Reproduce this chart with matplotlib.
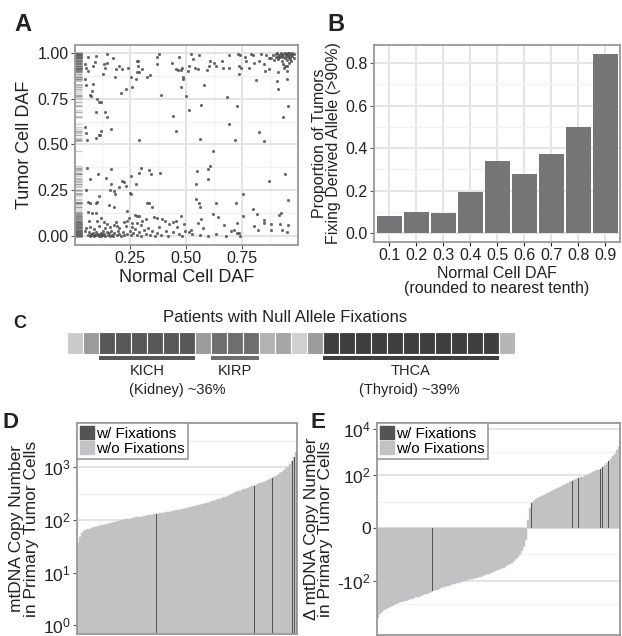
import matplotlib.pyplot as plt
from matplotlib.patches import Patch

plt.rcParams['font.family'] = ['Liberation Sans', 'DejaVu Sans']
plt.rcParams['mathtext.fontset'] = 'custom'
plt.rcParams['mathtext.rm'] = 'Liberation Sans'

# ---- panel A: normal vs tumor DAF
daf_points = [
    (0.060, 0.980), (0.097, 0.984), (0.149, 0.993), (0.174, 0.971), (0.049, 0.938), (0.092, 0.949),
    (0.085, 0.931), (0.134, 0.940), (0.149, 0.944), (0.052, 0.917), (0.060, 0.899), (0.138, 0.920),
    (0.189, 0.913), (0.201, 0.931), (0.216, 0.911), (0.241, 0.917), (0.280, 0.957), (0.286, 0.953),
    (0.287, 0.926), (0.305, 0.913), (0.280, 0.895), (0.290, 0.895), (0.369, 0.975), (0.379, 0.993),
    (0.372, 0.940), (0.436, 0.947), (0.469, 0.980), (0.454, 0.913), (0.464, 0.904), (0.479, 0.907),
    (0.484, 0.920), (0.129, 0.886), (0.182, 0.868), (0.253, 0.866), (0.275, 0.859), (0.324, 0.868),
    (0.339, 0.877), (0.487, 0.868), (0.488, 0.857), (0.049, 0.859), (0.052, 0.826), (0.085, 0.831),
    (0.231, 0.804), (0.257, 0.813), (0.208, 0.779), (0.082, 0.790), (0.071, 0.772), (0.077, 0.763),
    (0.104, 0.748), (0.112, 0.730), (0.119, 0.732), (0.478, 0.813), (0.387, 0.772), (0.100, 0.676),
    (0.140, 0.678), (0.149, 0.649), (0.443, 0.658), (0.049, 0.594), (0.052, 0.560), (0.119, 0.576),
    (0.112, 0.554), (0.116, 0.551), (0.164, 0.582), (0.097, 0.536), (0.057, 0.527), (0.290, 0.527),
    (0.454, 0.572),
    (0.522, 0.993), (0.530, 0.965), (0.560, 0.986), (0.607, 0.958), (0.601, 0.931), (0.624, 0.947),
    (0.634, 0.931), (0.659, 0.953), (0.667, 0.917), (0.693, 0.917), (0.693, 0.986), (0.734, 0.993),
    (0.743, 0.989), (0.738, 0.926), (0.746, 0.917), (0.735, 0.884), (0.765, 0.976), (0.768, 0.957),
    (0.780, 0.917), (0.790, 0.993), (0.798, 0.989), (0.805, 0.944), (0.824, 0.953), (0.835, 0.993),
    (0.847, 0.940), (0.854, 0.902), (0.869, 0.913), (0.857, 0.989), (0.872, 0.974), (0.932, 0.940),
    (0.939, 0.917), (0.949, 0.902), (0.943, 0.931), (0.909, 0.898), (0.951, 0.857), (0.905, 0.844),
    (0.912, 0.802), (0.812, 0.851), (0.582, 0.822), (0.682, 0.759), (0.500, 0.763), (0.567, 0.717),
    (0.726, 0.712), (0.954, 0.712), (0.932, 0.649), (0.515, 0.687), (0.690, 0.609), (0.827, 0.569),
    (0.847, 0.518), (0.563, 0.531), (0.719, 0.527), (0.542, 0.920), (0.552, 0.913), (0.592, 0.907),
    (0.507, 0.899), (0.515, 0.926),
    (0.880, 0.970), (0.890, 0.990), (0.895, 0.960), (0.900, 0.980), (0.905, 1.000), (0.910, 0.965),
    (0.915, 0.990), (0.920, 0.975), (0.925, 1.000), (0.930, 0.955), (0.930, 0.985), (0.935, 0.995),
    (0.940, 0.970), (0.940, 1.000), (0.945, 0.985), (0.950, 0.960), (0.950, 0.995), (0.955, 0.975),
    (0.960, 1.000), (0.960, 0.990), (0.965, 0.965), (0.965, 0.980), (0.970, 0.995), (0.970, 0.955),
    (0.975, 1.000), (0.975, 0.985), (0.980, 0.970), (0.980, 0.995), (0.920, 0.990), (0.945, 0.995),
    (0.955, 1.000), (0.935, 0.975), (0.900, 0.995), (0.910, 0.980), (0.960, 0.945), (0.950, 0.930),
    (0.057, 0.373), (0.164, 0.364), (0.107, 0.337), (0.070, 0.310), (0.141, 0.319), (0.298, 0.370),
    (0.290, 0.346), (0.335, 0.359), (0.345, 0.341), (0.384, 0.346), (0.253, 0.328), (0.167, 0.286),
    (0.216, 0.301), (0.223, 0.297), (0.231, 0.274), (0.201, 0.268), (0.161, 0.250), (0.182, 0.228),
    (0.176, 0.246), (0.275, 0.286), (0.250, 0.237), (0.253, 0.228), (0.052, 0.252), (0.112, 0.219),
    (0.063, 0.188), (0.070, 0.183), (0.097, 0.178), (0.104, 0.188), (0.156, 0.168), (0.176, 0.156),
    (0.324, 0.183), (0.335, 0.178), (0.350, 0.156), (0.060, 0.129), (0.082, 0.123), (0.097, 0.125),
    (0.119, 0.101), (0.238, 0.138), (0.272, 0.116), (0.283, 0.111), (0.290, 0.107), (0.246, 0.098),
    (0.067, 0.080), (0.104, 0.083), (0.134, 0.074), (0.149, 0.065), (0.186, 0.074), (0.193, 0.056),
    (0.223, 0.074), (0.238, 0.080), (0.260, 0.069), (0.305, 0.083), (0.320, 0.092), (0.357, 0.105),
    (0.369, 0.098), (0.394, 0.092), (0.405, 0.080), (0.424, 0.065), (0.443, 0.074), (0.454, 0.083),
    (0.476, 0.111), (0.491, 0.065),
    (0.060, 0.005), (0.065, 0.020), (0.070, 0.000), (0.075, 0.010), (0.080, 0.005), (0.085, 0.015),
    (0.090, 0.000), (0.095, 0.008), (0.100, 0.020), (0.100, 0.003), (0.105, 0.012), (0.110, 0.000),
    (0.115, 0.006), (0.120, 0.018), (0.120, 0.002), (0.125, 0.010), (0.130, 0.030), (0.130, 0.004),
    (0.135, 0.012), (0.140, 0.000), (0.145, 0.022), (0.150, 0.006), (0.155, 0.014), (0.160, 0.002),
    (0.165, 0.030), (0.170, 0.008), (0.175, 0.000), (0.180, 0.016), (0.190, 0.004), (0.195, 0.025),
    (0.200, 0.010), (0.210, 0.000), (0.220, 0.020), (0.225, 0.005), (0.235, 0.012), (0.250, 0.030),
    (0.255, 0.003), (0.265, 0.015), (0.270, 0.040), (0.280, 0.006), (0.290, 0.020), (0.300, 0.000),
    (0.310, 0.035), (0.320, 0.010), (0.330, 0.045), (0.340, 0.005), (0.350, 0.025), (0.360, 0.000),
    (0.370, 0.015), (0.380, 0.050), (0.390, 0.008), (0.410, 0.030), (0.420, 0.002), (0.440, 0.020),
    (0.460, 0.050), (0.470, 0.010), (0.480, 0.000), (0.495, 0.030), (0.050, 0.030), (0.055, 0.045),
    (0.070, 0.050), (0.090, 0.040), (0.110, 0.055), (0.140, 0.045), (0.160, 0.050), (0.180, 0.060),
    (0.200, 0.045), (0.230, 0.055), (0.260, 0.050), (0.280, 0.070), (0.300, 0.060),
    (0.622, 0.464), (0.607, 0.382), (0.597, 0.364), (0.549, 0.355), (0.597, 0.310), (0.545, 0.283),
    (0.869, 0.301), (0.942, 0.341), (0.756, 0.228), (0.545, 0.201), (0.560, 0.183), (0.563, 0.161),
    (0.634, 0.179), (0.723, 0.179), (0.954, 0.196), (0.798, 0.147), (0.815, 0.120), (0.924, 0.123),
    (0.914, 0.114), (0.619, 0.120), (0.641, 0.105), (0.567, 0.092), (0.552, 0.069), (0.577, 0.042),
    (0.668, 0.060), (0.728, 0.071), (0.847, 0.087), (0.847, 0.071), (0.879, 0.065), (0.921, 0.065),
    (0.954, 0.060), (0.753, 0.111), (0.805, 0.054), (0.820, 0.033), (0.879, 0.033), (0.929, 0.033),
    (0.949, 0.024), (0.521, 0.035), (0.511, 0.020), (0.527, 0.011), (0.563, 0.007), (0.597, -0.002),
    (0.634, 0.011), (0.679, 0.002), (0.701, 0.026), (0.713, 0.033), (0.728, 0.018), (0.738, 0.018),
    (0.741, 0.000),
]
normal_daf = [p[0] for p in daf_points]
tumor_daf = [p[1] for p in daf_points]

# ---- panel B
daf_bins = [0.1, 0.2, 0.3, 0.4, 0.5, 0.6, 0.7, 0.8, 0.9]
prop_fixed = [0.081, 0.100, 0.095, 0.194, 0.339, 0.278, 0.372, 0.498, 0.841]
bin_labels = ['0.1', '0.2', '0.3', '0.4', '0.5', '0.6', '0.7', '0.8', '0.9']

# ---- panel C: one cell per patient
cell_colors = ['#cbcbcd', '#9b9b9d'] + ['#58585a'] * 6 + ['#9b9b9d'] + ['#6e6e71'] * 3 + \
              ['#b2b2b4', '#a6a6a8', '#d0d0d2', '#9b9b9d'] + ['#3f3f42'] * 11 + ['#b6b6b8']
groups = ['KICH', 'KIRP', 'THCA']
group_first = [2, 9, 16]
group_last = [7, 11, 26]
group_colors = ['#58585a', '#6e6e71', '#3f3f42']

# ---- panel D: mtDNA copy number, sorted
copy_number = [37, 48, 56, 61, 64, 66, 68, 70, 72, 74, 76, 78, 80, 81, 83, 85, 87, 89, 91, 93,
               95, 97, 99, 101, 102, 104, 106, 108, 110, 111, 113, 114, 115, 117, 119, 121, 123,
               125, 127, 129, 131, 133, 135, 137, 139, 141, 144, 146, 148, 151, 154, 157, 160, 163,
               166, 169, 172, 176, 180, 184, 188, 192, 197, 202, 207, 212, 218, 224, 231, 238, 245,
               252, 260, 268, 277, 287, 297, 308, 320, 333, 346, 355, 368, 380, 393, 406, 420, 435,
               447, 460, 475, 490, 505, 520, 537, 560, 585, 610, 640, 680, 720, 770, 820, 880, 950,
               1010, 1150, 1320, 1550, 1900]
fixed_d = [39, 88, 97, 107, 108, 109]

# ---- panel E: change in copy number, sorted
delta_cn = [-4200, -2800, -2300, -1900, -1650, -1500, -1350, -1230, -1100, -990, -900, -850, -800,
            -750, -710, -670, -630, -590, -550, -510, -470, -430, -400, -375, -350, -325, -300,
            -275, -255, -235, -218, -203, -190, -178, -167, -157, -147, -138, -130, -122, -116,
            -110, -104, -99, -94, -89, -85, -81, -77, -73, -69, -65, -61, -56, -51, -48, -45, -42,
            -38, -34, -31, -28, -26, -23, -20, -18, -16, -13, -11, -8.8, -6.5, -4.8, -3.2, -1.5,
            0.9, 3.5, 5.9, 7.5, 8.6, 9.7, 10.8, 12, 13.4, 14.7, 16, 18, 20, 22, 24, 27, 31, 34, 38,
            42, 46, 51, 56, 61, 66, 72, 78, 85, 92, 100, 110, 120, 132, 145, 158, 170, 185, 215,
            260, 320, 400, 500, 640, 820, 1200, 1700]
fixed_e = [27, 76, 96, 99, 110, 111, 114]

DARK = '#545457'
LIGHT = '#c2c2c4'
SPINE = '#999999'
GRID = '#e4e4e4'
GRID2 = '#f1f1f1'
TXT = '#222222'

fig = plt.figure(figsize=(6.22, 6.36), dpi=100)
W, H = 622.0, 636.0


def box(x0, y0, x1, y1):
    return [x0 / W, 1 - y1 / H, (x1 - x0) / W, (y1 - y0) / H]


def style(ax, fs):
    for s in ax.spines.values():
        s.set_color(SPINE)
        s.set_linewidth(1.3)
    ax.tick_params(which='major', labelsize=fs, color='#555555', length=3, width=0.8,
                   labelcolor=TXT, pad=1.5)
    ax.tick_params(which='minor', length=0)
    ax.set_axisbelow(True)


def sorted_bars(ax, values, fixed):
    # every sample as a light bar, samples with fixations as a thin dark bar
    idx = range(len(values))
    ax.bar(idx, values, width=1.0, color=LIGHT, edgecolor=LIGHT, linewidth=0.3)
    fx = [i for i in idx if i in fixed]
    ax.bar(fx, [values[i] for i in fx], width=0.5, color=DARK, linewidth=0)
    ax.set_xlim(-0.5, len(values) - 0.5)
    ax.set_xticks([])


# A
ax = fig.add_axes(box(75, 45, 298, 245))
ax.scatter(normal_daf, tumor_daf, s=3, facecolor='#666666', edgecolor='#333333', linewidths=0.3, zorder=3)
ax.hlines(tumor_daf, 0, 0.03, transform=ax.get_yaxis_transform(), color='#666666', alpha=0.3, lw=1)
ax.set_xlim(0.004, 1.0)
ax.set_ylim(-0.049, 1.043)
ax.set_xticks([0.25, 0.5, 0.75])
ax.set_xticklabels(['0.25', '0.50', '0.75'])
ax.set_xticks([0.125, 0.375, 0.625, 0.875], minor=True)
ax.set_yticks([0, 0.25, 0.5, 0.75, 1.0])
ax.set_yticklabels(['0.00', '0.25', '0.50', '0.75', '1.00'])
ax.set_yticks([0.125, 0.375, 0.625, 0.875], minor=True)
ax.grid(which='major', color=GRID, lw=1.4)
ax.grid(which='minor', color=GRID2, lw=0.9)
style(ax, 11.5)
ax.set_xlabel('Normal Cell DAF', fontsize=13, color=TXT, labelpad=2)
ax.set_ylabel('Tumor Cell DAF', fontsize=13, color=TXT, labelpad=3)
fig.text(14 / W, 1 - 31 / H, 'A', fontsize=17, fontweight='bold', color=TXT)

# B
ax = fig.add_axes(box(374, 45, 620, 242))
ax.bar(daf_bins, prop_fixed, width=0.092, color='#767679', zorder=3)
ax.set_xlim(0.043, 0.955)
ax.set_ylim(-0.042, 0.885)
ax.set_xticks(daf_bins)
ax.set_xticklabels(bin_labels)
ax.set_yticks([0, 0.2, 0.4, 0.6, 0.8])
ax.set_yticklabels(['0.0', '0.2', '0.4', '0.6', '0.8'])
ax.set_yticks([0.1, 0.3, 0.5, 0.7], minor=True)
ax.grid(which='major', color=GRID, lw=1.4)
ax.grid(which='minor', axis='y', color=GRID2, lw=0.9)
style(ax, 11.5)
ax.tick_params(axis='x', color=TXT)
ax.set_xlabel('Normal Cell DAF\n(rounded to nearest tenth)', fontsize=11.5, color=TXT,
              labelpad=2, linespacing=1.0)
ax.set_ylabel('Proportion of Tumors\nFixing Derived Allele (>90%)', fontsize=11.5, color=TXT,
              labelpad=3, linespacing=0.95)
fig.text(327 / W, 1 - 31 / H, 'B', fontsize=17, fontweight='bold', color=TXT)

# C
ax = fig.add_axes(box(67, 305, 515, 400))
ax.set_xlim(0, len(cell_colors))
ax.set_ylim(400, 305)
ax.axis('off')
ax.bar(range(len(cell_colors)), [22] * len(cell_colors), bottom=332, width=1.0, align='edge',
       color=cell_colors, edgecolor='white', linewidth=0.8)
for g, a, b, c in zip(groups, group_first, group_last, group_colors):
    ax.bar(a, 4.5, bottom=356, width=b + 1 - a, align='edge', color=c)
    ax.text((a + b + 1) / 2, 371, g, ha='center', va='center', fontsize=10.5, color=TXT)
ax.text(6.9, 390, '(Kidney) ~36%', ha='center', va='center', fontsize=10.5, color=TXT)
ax.text(21.4, 390, '(Thyroid) ~39%', ha='center', va='center', fontsize=10.5, color=TXT)
ax.text(13.6, 318, 'Patients with Null Allele Fixations', ha='center', va='center',
        fontsize=12, color=TXT)
fig.text(13 / W, 1 - 328 / H, 'C', fontsize=13, fontweight='bold', color=TXT)

handles = [Patch(color=DARK, label='w/ Fixations'), Patch(color=LIGHT, label='w/o Fixations')]


def legend(ax):
    lg = ax.legend(handles=handles, loc='upper left', fontsize=11, frameon=True, fancybox=False,
                   edgecolor=SPINE, framealpha=1, borderaxespad=0, borderpad=0.2,
                   handlelength=0.9, handleheight=0.9, handletextpad=0.15, labelspacing=0.05)
    lg.get_frame().set_linewidth(1.2)


# D
ax = fig.add_axes(box(77, 423, 297, 634))
ax.set_yscale('log')
sorted_bars(ax, copy_number, fixed_d)
ax.set_ylim(0.68, 6900)
ax.set_yticks([1, 10, 100, 1000])
ax.set_yticklabels([r'$\mathregular{10^{0}}$', r'$\mathregular{10^{1}}$',
                    r'$\mathregular{10^{2}}$', r'$\mathregular{10^{3}}$'])
ax.set_yticks([3.16, 31.6, 316, 3162], minor=True)
ax.grid(which='major', axis='y', color=GRID, lw=1.4)
ax.grid(which='minor', axis='y', color=GRID2, lw=0.9)
style(ax, 12.5)
ax.set_ylabel('mtDNA Copy Number\nin Primary Tumor Cells', fontsize=12.5, color=TXT,
              labelpad=3, linespacing=0.95)
legend(ax)
fig.text(2 / W, 1 - 428 / H, 'D', fontsize=16, fontweight='bold', color=TXT)

# E
ax = fig.add_axes(box(377, 423, 620, 635))
ax.set_yscale('asinh', linear_width=1.0)
sorted_bars(ax, delta_cn, fixed_e)
ax.set_ylim(-22000, 18000)
ax.set_yticks([-100, 0, 100, 10000])
ax.set_yticklabels([r'-$\mathregular{10^{2}}$', '0', r'$\mathregular{10^{2}}$', r'$\mathregular{10^{4}}$'])
ax.set_yticks([-1000, -7, 7, 1000], minor=True)
ax.grid(which='major', axis='y', color=GRID, lw=1.4)
ax.grid(which='minor', axis='y', color=GRID2, lw=0.9)
style(ax, 12.5)
ax.set_ylabel('\u0394 mtDNA Copy Number\nin Primary Tumor Cells', fontsize=12.5, color=TXT,
              labelpad=3, linespacing=0.95)
legend(ax)
fig.text(310 / W, 1 - 428 / H, 'E', fontsize=16, fontweight='bold', color=TXT)

fig.savefig('out.png', dpi=100)
